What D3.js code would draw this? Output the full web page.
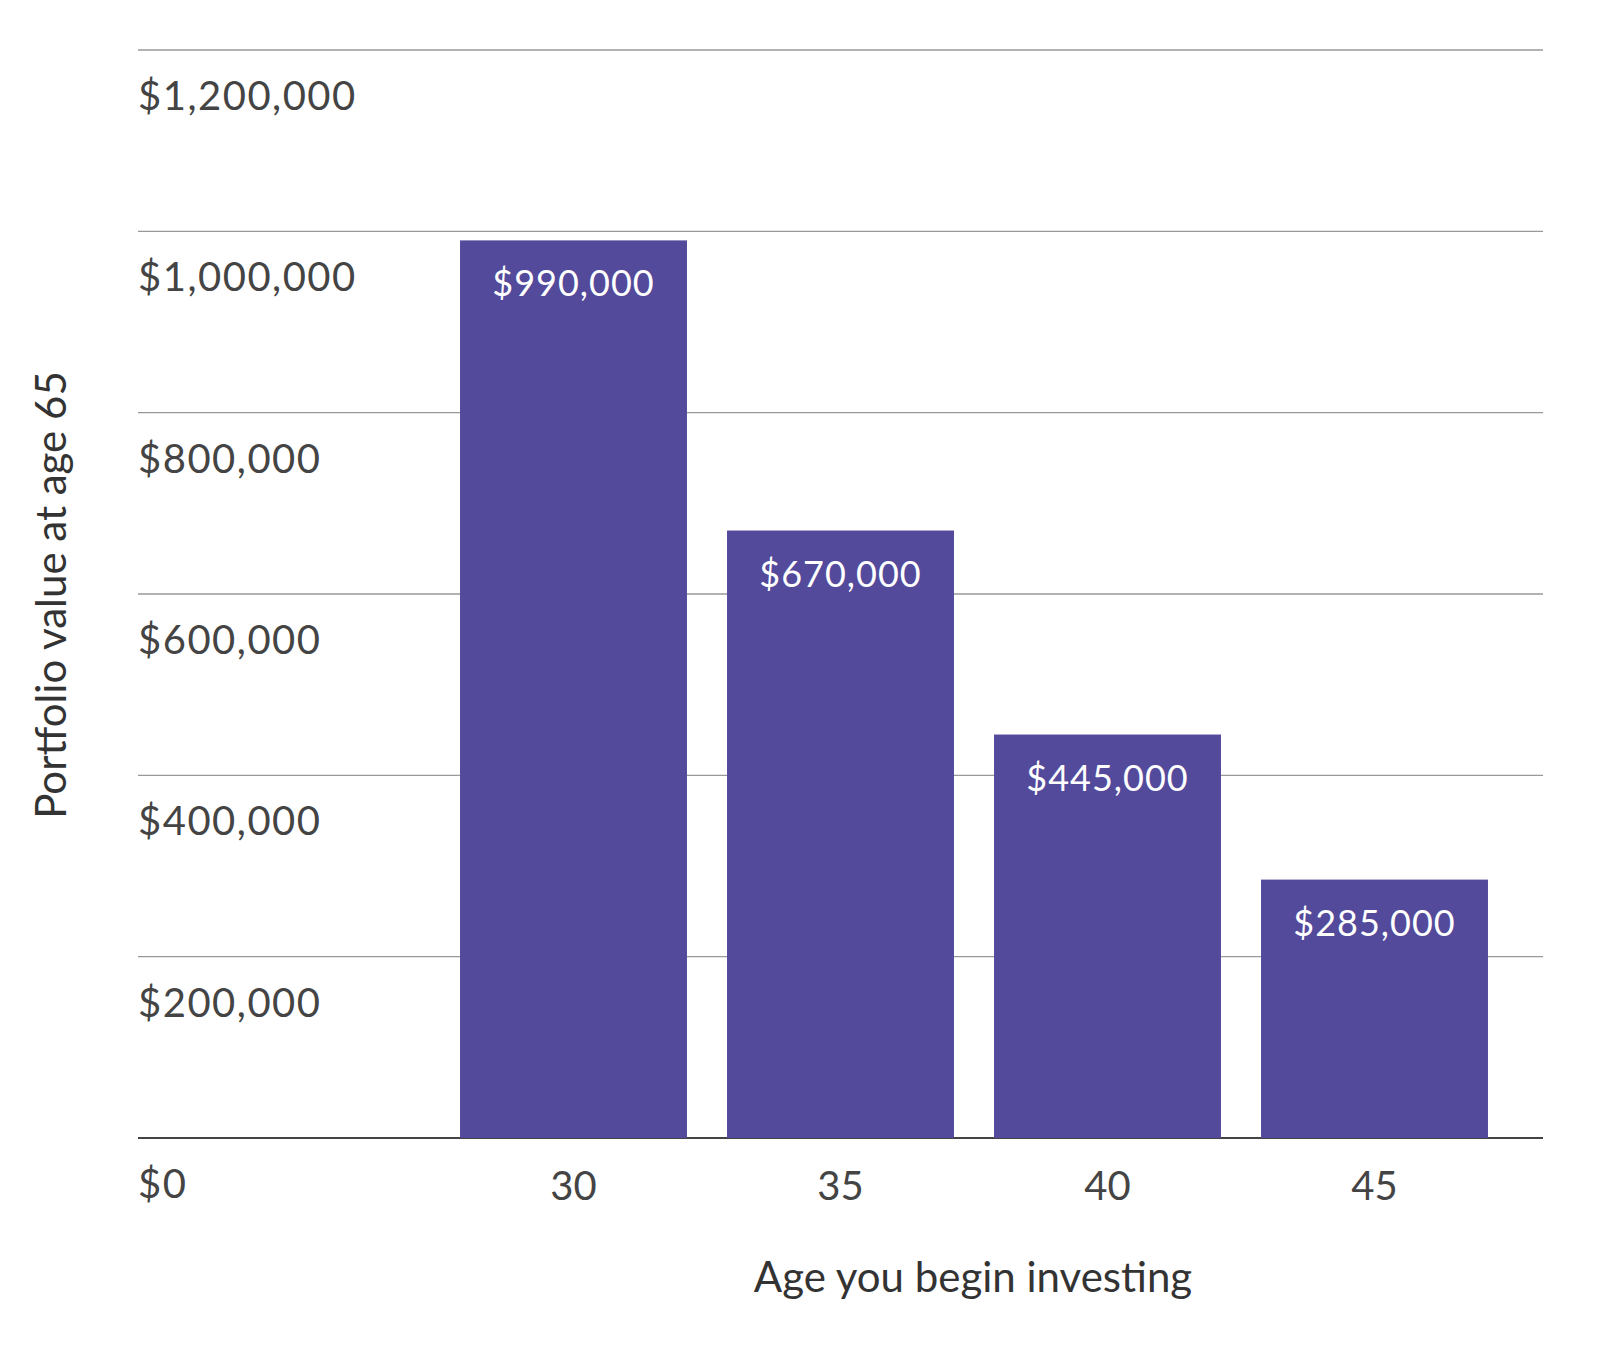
<!DOCTYPE html>
<html>
<head>
<meta charset="utf-8">
<script src="https://cdn.jsdelivr.net/npm/d3@7"></script>
<style>
  body { margin: 0; background: #fff; }
  text { font-family: Lato, "Open Sans", sans-serif; }
</style>
</head>
<body>
<div id="chart"></div>
<script>
// data
const ages = ["30", "35", "40", "45"];
const values = [990000, 670000, 445000, 285000];
const yTicks = [0, 200000, 400000, 600000, 800000, 1000000, 1200000];

const width = 1598, height = 1362;
const svg = d3.select("#chart").append("svg")
    .attr("width", width)
    .attr("height", height);

const y = d3.scaleLinear().domain([0, 1200000]).range([1138, 50]);
const x = d3.scaleBand().domain(ages).range([440, 1508])
    .paddingInner(0.15).paddingOuter(0.075);

const fmt = d => "$" + d3.format(",")(d);

// gridlines
svg.selectAll(".grid").data(yTicks).enter().append("line")
    .attr("x1", 138).attr("x2", 1543)
    .attr("y1", d => y(d)).attr("y2", d => y(d))
    .attr("stroke", d => d === 0 ? "#444" : "#999")
    .attr("stroke-width", d => d === 0 ? 2 : 1.3);

// tick labels, sit below each line
svg.selectAll(".ylab").data(yTicks).enter().append("text")
    .attr("x", 138).attr("y", d => y(d) + 60)
    .attr("fill", "#444").attr("font-size", 40)
    .attr("letter-spacing", 1.5)
    .text(fmt);

// bars
svg.selectAll(".bar").data(values).enter().append("rect")
    .attr("x", (d, i) => x(ages[i]))
    .attr("width", x.bandwidth())
    .attr("y", d => y(d))
    .attr("height", d => y(0) - y(d))
    .attr("fill", "#534a9c");

svg.selectAll(".blab").data(values).enter().append("text")
    .attr("x", (d, i) => x(ages[i]) + x.bandwidth() / 2)
    .attr("y", d => y(d) + 56)
    .attr("text-anchor", "middle")
    .attr("fill", "#fff").attr("font-size", 36)
    .attr("letter-spacing", 1)
    .text(fmt);

// x labels
svg.selectAll(".xlab").data(ages).enter().append("text")
    .attr("x", d => x(d) + x.bandwidth() / 2)
    .attr("y", 1200)
    .attr("text-anchor", "middle")
    .attr("fill", "#444").attr("font-size", 40)
    .text(d => d);

// axis titles
svg.append("text")
    .attr("x", 973).attr("y", 1292)
    .attr("text-anchor", "middle")
    .attr("fill", "#333").attr("font-size", 42)
    .text("Age you begin investing");

svg.append("text")
    .attr("transform", "translate(66,595) rotate(-90)")
    .attr("text-anchor", "middle")
    .attr("fill", "#333").attr("font-size", 42)
    .text("Portfolio value at age 65");
</script>
</body>
</html>
